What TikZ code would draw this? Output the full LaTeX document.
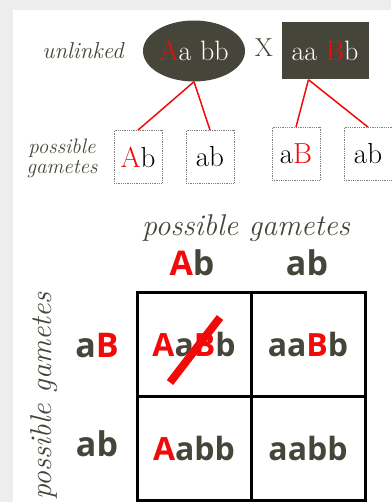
\documentclass[tikz,border=0pt]{standalone}
\usepackage{fontspec}
\newfontfamily\gridfont{Open Sans}
\usetikzlibrary{shapes.geometric,calc}
\definecolor{olv}{HTML}{46453A}
\definecolor{hr}{HTML}{F20A0A}
\newcommand{\R}[1]{{\color{hr}#1}}

\tikzset{
  parent/.style={fill=olv,text=white,inner sep=0pt,font=\fontsize{28}{30}\selectfont},
  gamete/.style={draw=gray,densely dotted,line width=0.8pt,minimum width=48pt,minimum height=53pt,font=\fontsize{29}{30}\selectfont},
  sidetext/.style={text=olv,align=center,font=\itshape\fontsize{23}{23}\selectfont},
  split/.style={draw=hr,line width=1.5pt},
  cell/.style={draw=black,line width=3pt,minimum width=114pt,minimum height=104pt,text=olv,font=\gridfont\bfseries\fontsize{32}{34}\selectfont},
  gtext/.style={text=olv,font=\gridfont\bfseries\fontsize{34}{36}\selectfont},
}

\begin{document}
\begin{tikzpicture}[x=1pt,y=-1pt]
\useasboundingbox (0,0) rectangle (391,502);
\fill[black!7] (0,0) rectangle (391,502);
\fill[white] (13,10) rectangle (391,502);

% cross
\node[sidetext] (unl) at (83,51) {unlinked};
\node[parent,ellipse,minimum width=102pt,minimum height=61pt] (p1) at (194,51) {\R{A}a bb};
\node[text=olv,font=\fontsize{26}{26}\selectfont] (x) at (264,48) {X};
\node[parent,minimum width=87pt,minimum height=57pt] (p2) at (325,51) {aa \R{B}b};

% gametes
\node[sidetext,font=\itshape\fontsize{21}{20}\selectfont] (pg1) at (62,158) {possible\\gametes};
\node[gamete] (g1) at (138,157) {\R{A}b};
\node[gamete] (g2) at (210,157) {ab};
\node[gamete] (g3) at (296,154) {a\R{B}};
\node[gamete] (g4) at (368,154) {ab};

\draw[split] (p1.south) -- (g1.north);
\draw[split] (p1.south) -- (g2.north);
\draw[split] (p2.240) -- (g3.north);
\draw[split] (p2.240) -- (g4.north);

% punnett square
\node[sidetext,font=\itshape\fontsize{30}{30}\selectfont] (pg2) at (246,228) {possible gametes};
\node[sidetext,font=\itshape\fontsize{30}{30}\selectfont,rotate=90] (pg3) at (44,396) {possible gametes};

\node[cell] (c11) at (194,344.5) {\R{A}a\R{B}b};
\node[cell] (c12) at (308,344.5) {aa\R{B}b};
\node[cell] (c21) at (194,448.5) {\R{A}abb};
\node[cell] (c22) at (308,448.5) {aabb};

\node[gtext] (h1) at (192,263) {\R{A}b};
\node[gtext] (h2) at (307,263) {ab};
\node[gtext] (r1) at (97,346) {a\R{B}};
\node[gtext] (r2) at (97,444) {ab};

\draw[hr,line width=8pt] ($(c11)+(-24,38)$) -- ($(c11)+(26,-27)$);
\end{tikzpicture}
\end{document}
